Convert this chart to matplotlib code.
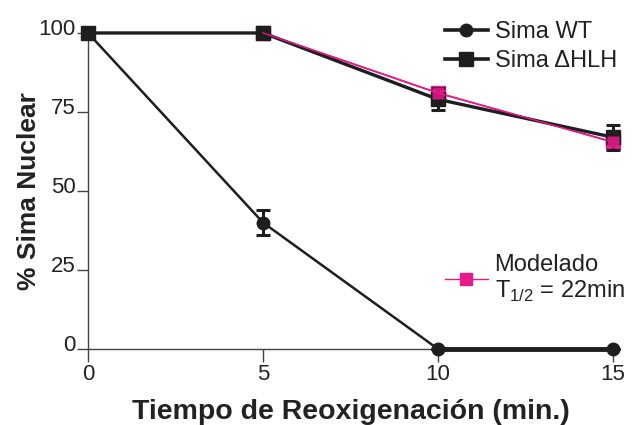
import matplotlib
matplotlib.use("Agg")
import matplotlib.pyplot as plt
import matplotlib.transforms as mtransforms
from matplotlib.lines import Line2D

plt.rcParams['font.family'] = ['Liberation Sans', 'DejaVu Sans']
plt.rcParams['mathtext.fontset'] = 'custom'
plt.rcParams['mathtext.rm'] = 'Liberation Sans'

time = [0, 5, 10, 15]
wt = [100, 40, 0, 0]
wt_err = [0, 4, 0, 0]
dhlh = [100, 100, 79, 67]
dhlh_err = [0, 0, 3.5, 4]
model_time = [5, 10, 15]
model = [100, 81, 65.5]
xticks = [0, 5, 10, 15]
yticks = [0, 25, 50, 75, 100]

DARK = '#1e1e1e'
PINK = '#e8198b'

fig = plt.figure(figsize=(6.35, 4.25), dpi=100)
ax = fig.add_axes([0.1386, 0.1788, 0.8268, 0.7436])

# model (magenta)
ax.plot(model_time, model, color=PINK, lw=1.3, marker='s', ms=10, mfc=PINK, mec=PINK,
        clip_on=False, zorder=3)
# Sima dHLH
ax.errorbar(time, dhlh, yerr=dhlh_err, color=DARK, lw=2.4, marker='s', ms=10,
            capsize=5, capthick=2.2, elinewidth=2.2, clip_on=False, zorder=4)
ax.plot(model_time, model, color=PINK, lw=1.0, clip_on=False, zorder=5)
ax.plot(model_time[1:], model[1:], color=PINK, lw=0, marker='s', ms=8, mfc=PINK, mec='none',
        clip_on=False, zorder=5, alpha=0.85)
# Sima WT
ax.errorbar(time, wt, yerr=wt_err, color=DARK, lw=1.8, marker='o', ms=9,
            capsize=5, capthick=2.2, elinewidth=2.2, clip_on=False, zorder=4)
ax.plot(time[2:], wt[2:], color=DARK, lw=3.5, clip_on=False, zorder=4)

ax.set_xlim(0, 15)
ax.set_ylim(0, 100)
ax.set_xticks(xticks)
ax.set_yticks(yticks)
ax.spines['top'].set_visible(False)
ax.spines['right'].set_visible(False)
for s in ('left', 'bottom'):
    ax.spines[s].set_color('#444444')
    ax.spines[s].set_linewidth(1.0)
ax.tick_params(axis='both', colors='#444444', labelcolor='#222222', labelsize=16,
               width=1.0)
ax.tick_params(axis='y', pad=1, length=8)
ax.tick_params(axis='x', pad=2, length=9)
shift = mtransforms.ScaledTranslation(0, -2 / 100, fig.dpi_scale_trans)
for lab in ax.get_yticklabels():
    lab.set_verticalalignment('baseline')
    lab.set_transform(lab.get_transform() + shift)

ax.set_xlabel('Tiempo de Reoxigenación (min.)', fontsize=20.5, fontweight='bold',
              color='#222222', labelpad=10)
ax.set_ylabel('% Sima Nuclear', fontsize=19, fontweight='bold', color='#222222')
ax.yaxis.set_label_coords(-0.089, 0.5)

h1 = [Line2D([], [], color=DARK, lw=2.6, marker='o', ms=9),
      Line2D([], [], color=DARK, lw=2.6, marker='s', ms=10)]
leg1 = ax.legend(h1, ['Sima WT', 'Sima ΔHLH'], loc='upper left',
                 bbox_to_anchor=(0.68, 1.037), frameon=False, fontsize=17,
                 handlelength=1.8, handletextpad=0.3, labelspacing=0.3,
                 borderaxespad=0, borderpad=0)
for t in leg1.get_texts():
    t.set_color('#222222')
ax.add_artist(leg1)

h2 = [Line2D([], [], color=PINK, lw=1.0, marker='s', ms=8)]
leg2 = ax.legend(h2, ['Modelado\nT$_{\\mathregular{1/2}}$ = 22min'], loc='upper left',
                 bbox_to_anchor=(0.68, 0.302), frameon=False, fontsize=17,
                 handlelength=1.8, handletextpad=0.3, borderaxespad=0, borderpad=0)
for t in leg2.get_texts():
    t.set_color('#222222')
    t.set_linespacing(1.15)

fig.savefig('out.png', dpi=100)
